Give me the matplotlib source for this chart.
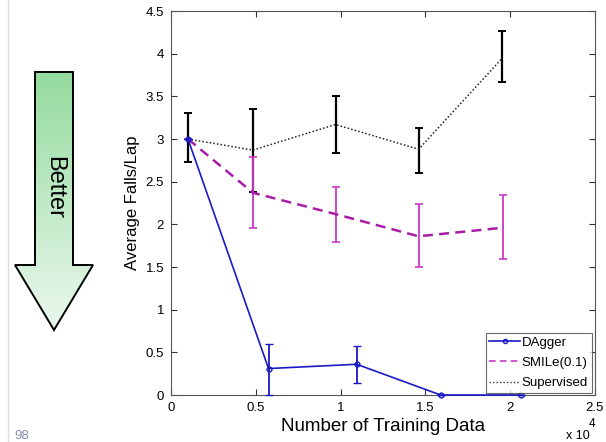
import numpy as np
import matplotlib
matplotlib.use("Agg")
import matplotlib.pyplot as plt
from matplotlib.patches import Polygon
from matplotlib.lines import Line2D

plt.rcParams['font.family'] = ['Liberation Sans', 'DejaVu Sans']

# Training set size (x 10^4) and average falls per lap
dagger_x = [0.10, 0.575, 1.095, 1.59, 2.065]
dagger_y = [3.00, 0.31, 0.36, 0.00, 0.00]
dagger_lo = [3.00, 0.00, 0.14, 0.00, 0.00]
dagger_hi = [3.00, 0.60, 0.58, 0.00, 0.00]

smile_x = [0.10, 0.483, 0.97, 1.46, 1.955]
smile_y = [3.00, 2.37, 2.12, 1.86, 1.96]
smile_lo = [3.00, 1.96, 1.79, 1.50, 1.59]
smile_hi = [3.00, 2.79, 2.44, 2.24, 2.34]

sup_x = [0.10, 0.483, 0.97, 1.46, 1.95]
sup_y = [3.00, 2.87, 3.17, 2.88, 3.94]
sup_lo = [2.73, 2.38, 2.84, 2.60, 3.67]
sup_hi = [3.31, 3.35, 3.50, 3.13, 4.27]

x_ticks = [0, 0.5, 1, 1.5, 2, 2.5]
x_ticklabels = ["0", "0.5", "1", "1.5", "2", "2.5"]
y_ticks = [0, 0.5, 1, 1.5, 2, 2.5, 3, 3.5, 4, 4.5]
y_ticklabels = ["0", "0.5", "1", "1.5", "2", "2.5", "3", "3.5", "4", "4.5"]

W, H = 606, 442
fig = plt.figure(figsize=(W / 100, H / 100), dpi=100)
fig.patch.set_facecolor('white')

ax = fig.add_axes([171 / W, (H - 395) / H, (595 - 171) / W, (395 - 11) / H])

def yerr(y, lo, hi):
    y = np.asarray(y); lo = np.asarray(lo); hi = np.asarray(hi)
    return np.vstack([y - lo, hi - y])

blue = '#1a1ac4'
mag = '#c838c8'
mag_line = '#a81ca8'

# Supervised
ax.errorbar(sup_x, sup_y, yerr=yerr(sup_y, sup_lo, sup_hi), color='#222222',
            ls=(0, (1, 1.4)), lw=1.1, ecolor='black', elinewidth=1.6,
            capsize=2.8, capthick=1.4, zorder=2)
# SMILe
ax.errorbar(smile_x, smile_y, yerr=yerr(smile_y, smile_lo, smile_hi), color=mag_line,
            ls=(0, (4, 2.5)), lw=1.8, ecolor=mag, elinewidth=1.3,
            capsize=2.8, capthick=1.2, zorder=3)
# DAgger
ax.errorbar(dagger_x, dagger_y, yerr=yerr(dagger_y, dagger_lo, dagger_hi), color=blue,
            ls='-', lw=1.2, marker='o', ms=3.5, mfc='none', mec=blue, mew=1.0,
            ecolor=blue, elinewidth=1.3, capsize=2.8, capthick=1.2, zorder=4,
            clip_on=False)

ax.set_xlim(0, 2.5)
ax.set_ylim(0, 4.5)
ax.set_xticks(x_ticks)
ax.set_xticklabels(x_ticklabels)
ax.set_yticks(y_ticks)
ax.set_yticklabels(y_ticklabels)
ax.tick_params(direction='in', top=True, right=True, length=4, width=0.8,
               labelsize=9.5, colors='#333333', labelcolor='black', pad=5)
for s in ax.spines.values():
    s.set_color('#555555')
    s.set_linewidth(0.8)

ax.set_xlabel('Number of Training Data', fontsize=13.5, labelpad=3)
ax.set_ylabel('Average Falls/Lap', fontsize=12, labelpad=4)

fig.text(566 / W, 1 - 439 / H, 'x 10', fontsize=9, ha='left', va='baseline')
fig.text(589 / W, 1 - 427 / H, '4', fontsize=8.5, ha='left', va='baseline')

handles = [
    Line2D([], [], color=blue, lw=1.2, marker='o', ms=3, mfc='none', mec=blue),
    Line2D([], [], color=mag, lw=1.2, ls=(0, (4, 2.5))),
    Line2D([], [], color='#333333', lw=1.0, ls=(0, (1, 1.5))),
]
leg = ax.legend(handles, ['DAgger', 'SMILe(0.1)', 'Supervised'], loc='lower right',
                bbox_to_anchor=(0.993, 0.005), fontsize=9.5, frameon=True, fancybox=False,
                handlelength=2.3, handletextpad=0.15, borderpad=0.3, labelspacing=0.6,
                borderaxespad=0.0)
leg.get_frame().set_edgecolor('#444444')
leg.get_frame().set_linewidth(0.8)

# Gradient "Better" arrow drawn in figure pixel space
over = fig.add_axes([0, 0, 1, 1], zorder=-1)
over.set_xlim(0, W)
over.set_ylim(H, 0)
over.axis('off')
pts = [(35, 72), (73, 72), (73, 265), (93, 265), (54, 330), (15, 265), (35, 265)]
poly = Polygon(pts, closed=True, facecolor='none', edgecolor='black', lw=1.4, zorder=3)
over.add_patch(poly)
grad = np.linspace(0, 1, 256)[:, None]
top = np.array([0.58, 0.86, 0.62])
bot = np.array([0.92, 0.97, 0.93])
img = top[None, None, :] * (1 - grad[..., None]) + bot[None, None, :] * grad[..., None]
im = over.imshow(img, extent=(15, 93, 330, 72), aspect='auto', zorder=2)
clip = Polygon(pts, closed=True, transform=over.transData, facecolor='none', edgecolor='none')
over.add_patch(clip)
im.set_clip_path(clip)
over.text(54, 187, 'Better', rotation=-90, ha='center', va='center', fontsize=17)
over.plot([8, 8], [0, H], color='#dddddd', lw=1)
over.text(14, 439, '98', fontsize=9.5, color='#8890b0', ha='left', va='baseline')

fig.savefig('out.png', dpi=100)
